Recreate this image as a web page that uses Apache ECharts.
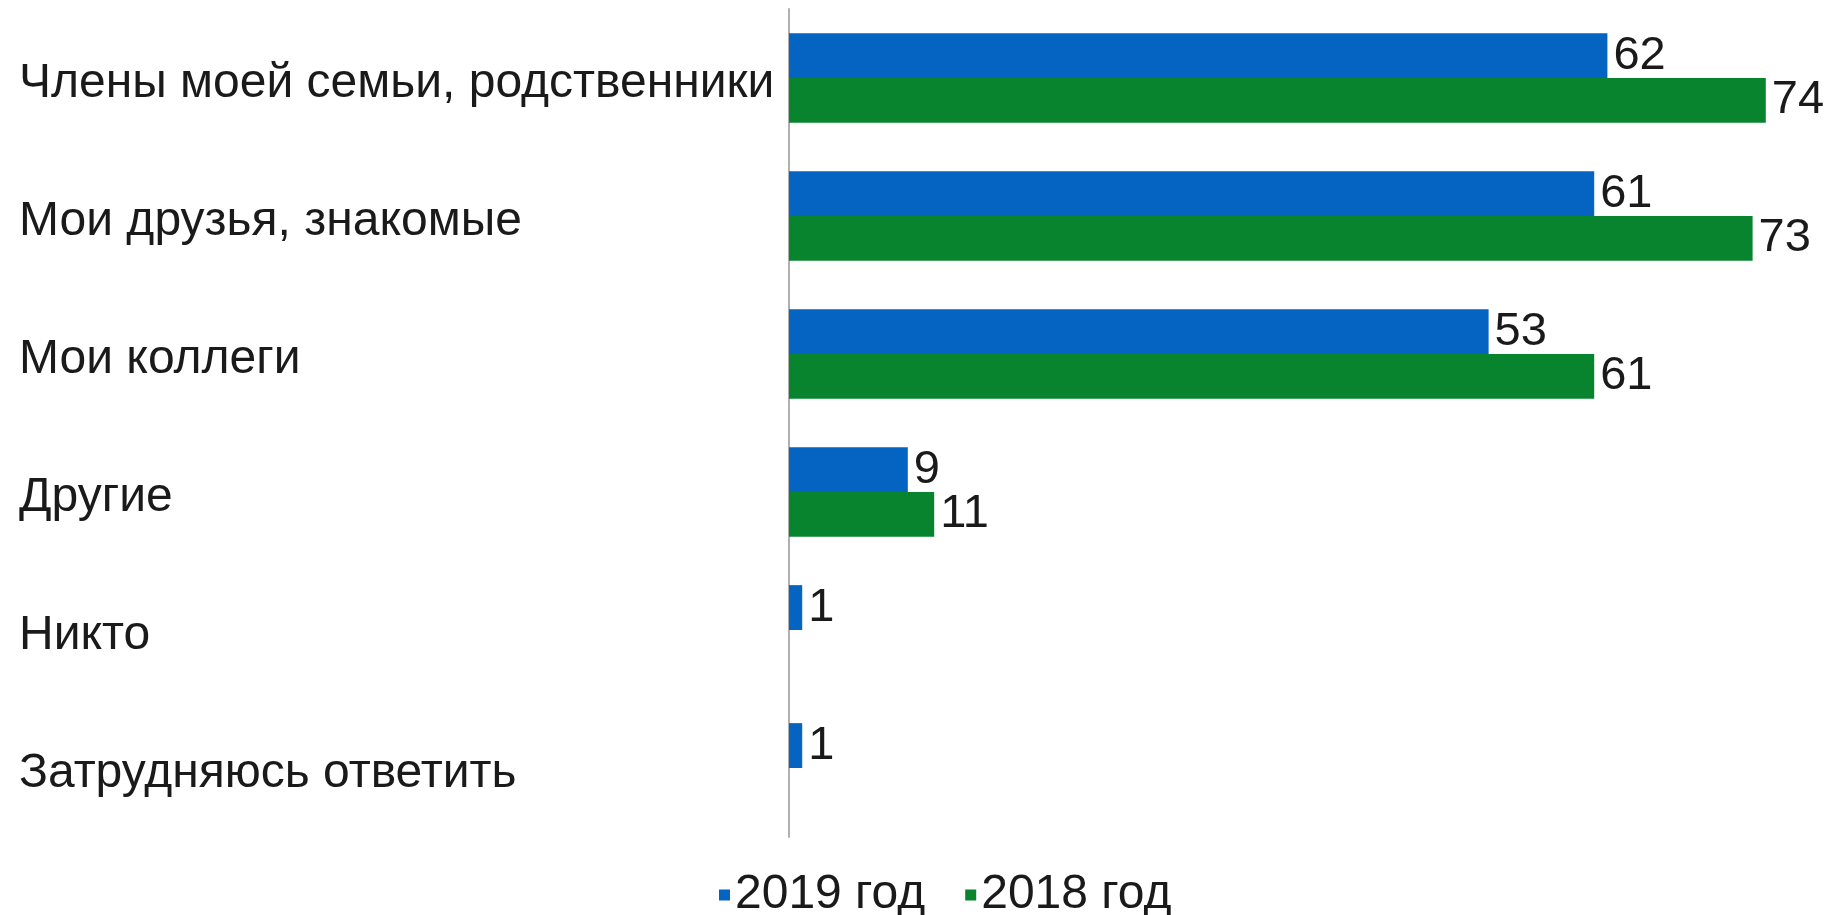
<!DOCTYPE html>
<html>
<head>
<meta charset="utf-8">
<script src="https://cdn.jsdelivr.net/npm/echarts@6/dist/echarts.min.js"></script>
<style>
  html, body { margin: 0; padding: 0; background: #fff; }
  #chart { width: 1840px; height: 915px; }
</style>
</head>
<body>
<div id="chart"></div>
<script>
const categories = [
  'Члены моей семьи, родственники',
  'Мои друзья, знакомые',
  'Мои коллеги',
  'Другие',
  'Никто',
  'Затрудняюсь ответить'
];
const values2019 = [62, 61, 53, 9, 1, 1];
const values2018 = [74, 73, 61, 11, null, null];

const chart = echarts.init(document.getElementById('chart'));

const labelStyle = {
  show: true,
  position: 'right',
  distance: 6,
  fontFamily: 'Liberation Sans',
  fontSize: 47,
  color: '#1a1a1a',
  padding: [6, 0, 0, 0]
};

const option = {
  animation: false,
  textStyle: { fontFamily: 'Liberation Sans' },
  grid: {
    left: 789,
    top: 9,
    width: 990,
    height: 828
  },
  legend: {
    data: ['2019 год', '2018 год'],
    left: 714,
    top: 866,
    icon: 'rect',
    itemWidth: 11,
    itemHeight: 11,
    itemGap: 40,
    textStyle: {
      fontFamily: 'Liberation Sans',
      fontSize: 48,
      color: '#1a1a1a'
    }
  },
  xAxis: {
    type: 'value',
    min: 0,
    max: 75,
    show: false
  },
  yAxis: {
    type: 'category',
    data: categories,
    inverse: true,
    axisLine: { show: true, lineStyle: { color: '#b0b0b0', width: 2 } },
    axisTick: { show: false },
    axisLabel: {
      align: 'left',
      margin: 770,
      formatter: '{t|{value}}',
      rich: {
        t: {
          fontFamily: 'Liberation Sans',
          fontSize: 48,
          color: '#1a1a1a',
          padding: [12, 0, 0, 0]
        }
      }
    }
  },
  series: [
    {
      name: '2019 год',
      type: 'bar',
      data: values2019,
      barGap: '0%',
      barCategoryGap: '35%',
      itemStyle: { color: '#0563c1' },
      label: labelStyle
    },
    {
      name: '2018 год',
      type: 'bar',
      data: values2018,
      itemStyle: { color: '#08832e' },
      label: labelStyle
    }
  ]
};

chart.setOption(option);
</script>
</body>
</html>
